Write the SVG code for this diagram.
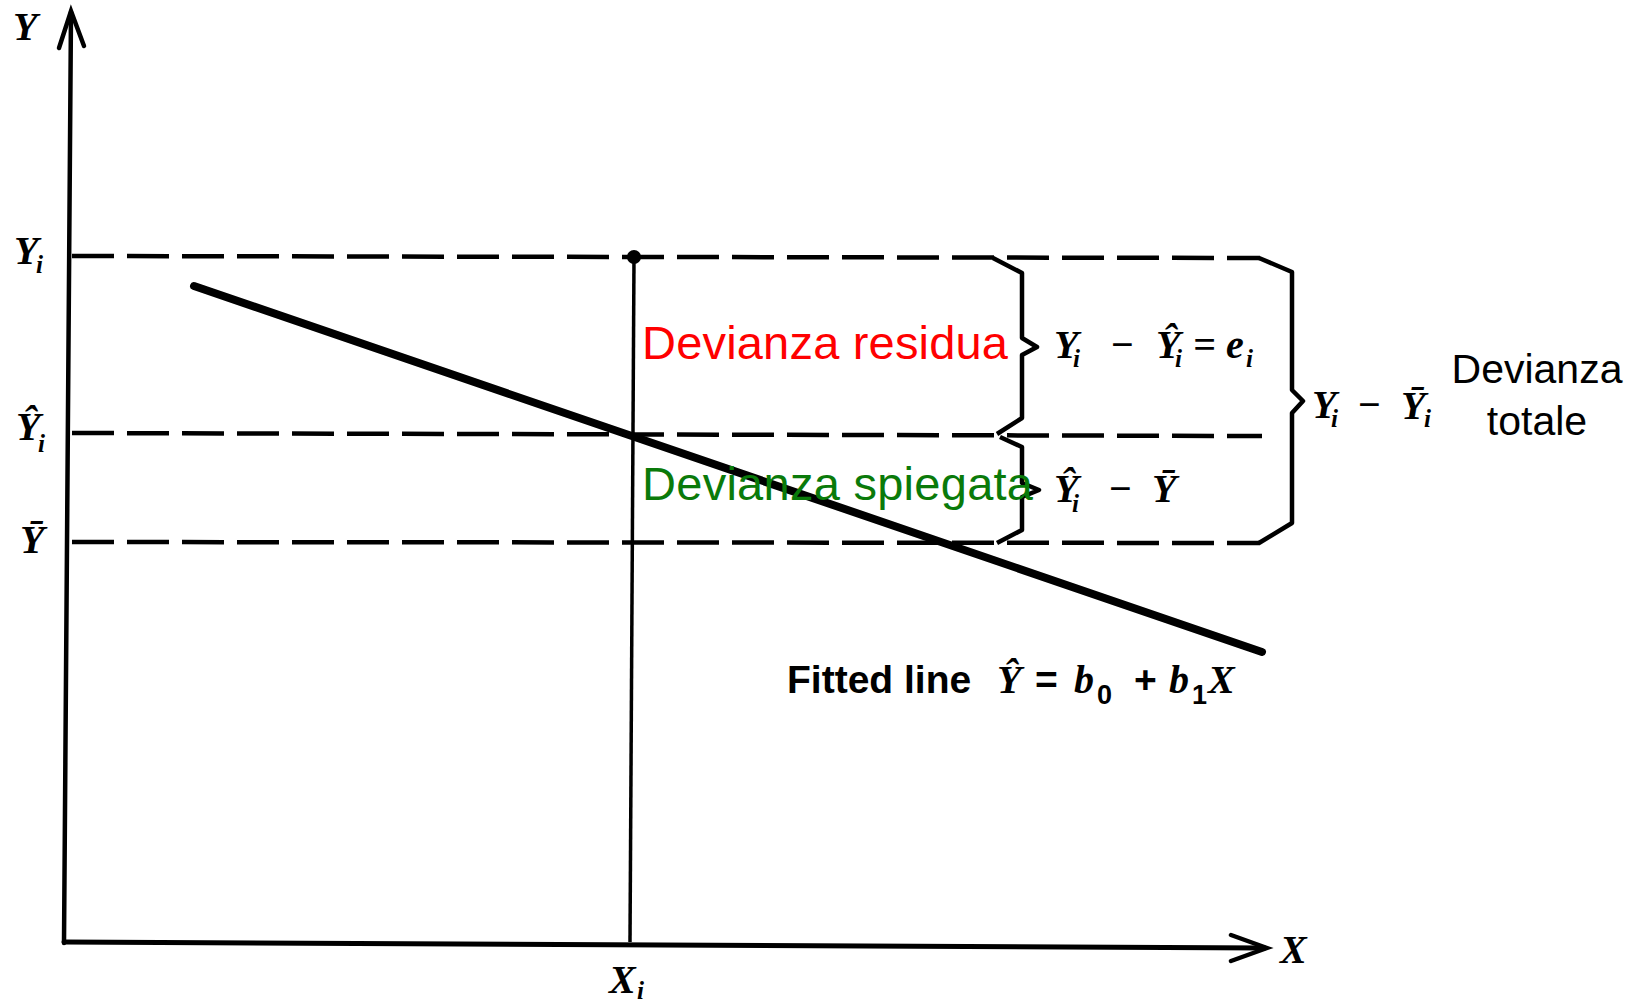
<svg xmlns="http://www.w3.org/2000/svg" width="1629" height="1003" viewBox="0 0 1629 1003">
<style>
.ax{stroke:#000;stroke-width:4.5;fill:none;stroke-linecap:round}
.dash{stroke:#000;stroke-width:4.5;fill:none;stroke-dasharray:42 13}
.brace{stroke:#000;stroke-width:4.5;fill:none;stroke-linejoin:round}
.m{font-family:"Liberation Serif","Times New Roman",serif;font-style:italic;font-weight:bold;font-size:40px;fill:#000}
.s{font-size:25px}
.lbl{font-family:"Liberation Sans",Arial,sans-serif;font-size:47px}
.fit{font-family:"Liberation Sans",Arial,sans-serif;font-weight:bold;font-size:39px;fill:#000}
.num{font-family:"Liberation Sans",Arial,sans-serif;font-weight:bold;font-style:normal;font-size:27px}
</style>
<rect width="1629" height="1003" fill="#fff"/>
<g id="connectors">
  <line class="ax" x1="71" y1="12" x2="64" y2="943"/>
  <polyline class="ax" points="59,48 71,11 84,46"/>
  <line class="ax" x1="64" y1="942" x2="1265" y2="948" style="stroke-width:5"/>
  <polyline class="ax" points="1231,935 1267,948 1231,961"/>
  <line class="dash" x1="72" y1="256" x2="1260" y2="258"/>
  <line class="dash" x1="72" y1="433" x2="1262" y2="436"/>
  <line class="dash" x1="72" y1="542" x2="1260" y2="543"/>
  <line x1="634" y1="257" x2="630" y2="942" stroke="#000" stroke-width="3.5"/>
  <line x1="194" y1="286" x2="1262" y2="652" stroke="#000" stroke-width="8" stroke-linecap="round"/>
</g>
<g id="point">
  <circle cx="634" cy="257" r="7" fill="#000"/>
</g>
<g id="braces">
  <path class="brace" d="M993,258 L1022,273 L1022,338 L1037,347 L1022,355 L1022,418 L997,434"/>
  <path class="brace" d="M1000,437 L1022,447 L1022,483 L1039,490 L1022,497 L1022,530 L997,543"/>
  <path class="brace" d="M1259,258 L1292,272 L1292,390 L1303,401 L1292,413 L1292,523 L1259,543"/>
</g>
<g id="axis-labels">
  <text class="m" x="13" y="40">Y</text>
  <text class="m" x="1280" y="963">X</text>
  <text class="m" x="609" y="993">X<tspan class="s" x="637" y="999">i</tspan></text>
  <text class="m" x="14" y="264">Y<tspan class="s" x="36" y="273">i</tspan></text>
  <text class="m" x="16" y="440">Ŷ<tspan class="s" x="38" y="452">i</tspan></text>
  <text class="m" x="20" y="553">Ȳ</text>
</g>
<g id="residual">
  <text class="lbl" x="642" y="359" fill="#ff0000" textLength="366">Devianza residua</text>
  <text class="m" x="1054" y="358">Y<tspan class="s" x="1073" y="367">i</tspan><tspan x="1110" y="358">−</tspan><tspan x="1156" y="358">Ŷ</tspan><tspan class="s" x="1175" y="367">i</tspan><tspan x="1193" y="358">=</tspan><tspan x="1226" y="358">e</tspan><tspan class="s" x="1246" y="367">i</tspan></text>
</g>
<g id="explained">
  <text class="lbl" x="642" y="500" fill="#0a7a0a" textLength="391">Devianza spiegata</text>
  <text class="m" x="1054" y="502">Ŷ<tspan class="s" x="1072" y="512">i</tspan><tspan x="1108" y="502">−</tspan><tspan x="1152" y="502">Ȳ</tspan></text>
</g>
<g id="total">
  <text class="m" x="1312" y="418">Y<tspan class="s" x="1331" y="427">i</tspan><tspan x="1357" y="418">−</tspan><tspan x="1401" y="419">Ȳ</tspan><tspan class="s" x="1424" y="427">i</tspan></text>
  <text class="lbl" x="1537" y="383" text-anchor="middle" fill="#000" style="font-size:41px">Devianza</text>
  <text class="lbl" x="1537" y="435" text-anchor="middle" fill="#000" style="font-size:41px">totale</text>
</g>
<g id="fitted-label">
  <text class="fit" x="787" y="693">Fitted line</text>
  <text class="m" x="997" y="693">Ŷ</text>
  <text class="fit" x="1035" y="693">=</text>
  <text class="m" x="1074" y="693">b<tspan class="num" x="1097" y="704">0</tspan></text>
  <text class="fit" x="1134" y="693">+</text>
  <text class="m" x="1169" y="693">b<tspan class="num" x="1192" y="704">1</tspan></text>
  <text class="m" x="1208" y="693">X</text>
</g>
</svg>
